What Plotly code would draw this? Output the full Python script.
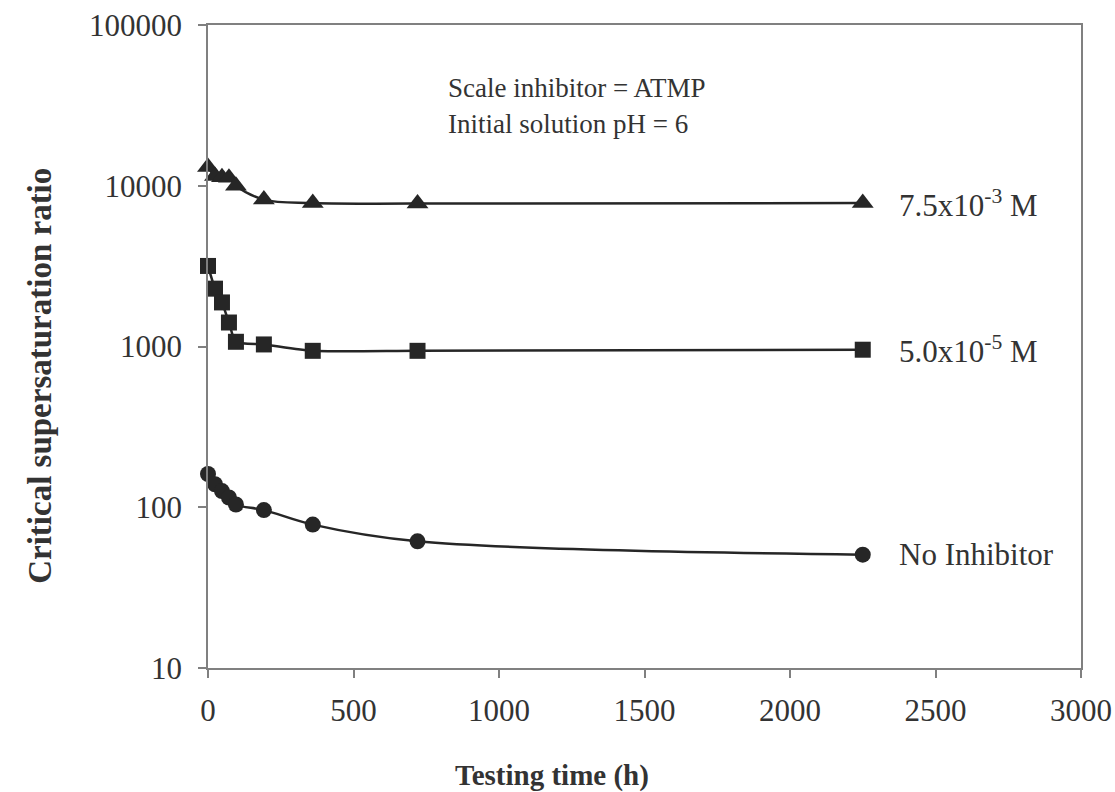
import math
import plotly.graph_objects as go

# Testing times (h) shared by all three runs
time_h = [0, 24, 48, 72, 96, 192, 360, 720, 2250]

# Critical supersaturation ratio for each inhibitor dose
atmp_75e3 = [13100, 11500, 11300, 11200, 10000, 8200, 7800, 7750, 7800]
atmp_50e5 = [3170, 2290, 1880, 1410, 1070, 1030, 940, 940, 955]
no_inhib = [161, 139, 126, 115, 104, 96, 78, 61.4, 50.7]

series_labels = ["7.5x10<sup>-3</sup> M", "5.0x10<sup>-5</sup> M", "No Inhibitor"]

x_ticks = [0, 500, 1000, 1500, 2000, 2500, 3000]
y_ticks = [10, 100, 1000, 10000, 100000]
y_ticktext = ["10", "100", "1000", "10000", "100000"]

serif = "Liberation Serif, Times New Roman, serif"
ink = "#262626"
text_col = "#333333"
axis_grey = "#808080"

fig = go.Figure()

fig.add_trace(go.Scatter(
    x=time_h, y=atmp_75e3, mode="lines+markers",
    line=dict(color=ink, width=2.5, shape="spline", smoothing=1.0),
    marker=dict(symbol="triangle-up", size=19, color=ink),
    showlegend=False, cliponaxis=False,
))
fig.add_trace(go.Scatter(
    x=time_h, y=atmp_50e5, mode="lines+markers",
    line=dict(color=ink, width=2.5, shape="spline", smoothing=0.6),
    marker=dict(symbol="square", size=16, color=ink),
    showlegend=False, cliponaxis=False,
))
fig.add_trace(go.Scatter(
    x=time_h, y=no_inhib, mode="lines+markers",
    line=dict(color=ink, width=2.5, shape="spline", smoothing=1.0),
    marker=dict(symbol="circle", size=16, color=ink),
    showlegend=False, cliponaxis=False,
))

# Series labels to the right of the last point (log axis: y given as log10)
for label, values in zip(series_labels, [atmp_75e3, atmp_50e5, no_inhib]):
    fig.add_annotation(
        x=2368, y=math.log10(values[-1]), xref="x", yref="y",
        text=label, showarrow=False, xanchor="left", yanchor="middle",
        font=dict(family=serif, size=31, color=text_col),
    )

# Test conditions note
fig.add_annotation(
    x=0.273, y=0.902, xref="paper", yref="paper",
    text="Scale inhibitor = ATMP", showarrow=False,
    xanchor="left", yanchor="middle",
    font=dict(family=serif, size=27, color=text_col),
)
fig.add_annotation(
    x=0.273, y=0.846, xref="paper", yref="paper",
    text="Initial solution pH = 6", showarrow=False,
    xanchor="left", yanchor="middle",
    font=dict(family=serif, size=27, color=text_col),
)

# Axis titles
fig.add_annotation(
    x=-0.192, y=0.455, xref="paper", yref="paper",
    text="<b>Critical supersaturation ratio</b>", textangle=-90,
    showarrow=False, xanchor="center", yanchor="middle",
    font=dict(family=serif, size=33, color=text_col),
)
fig.add_annotation(
    x=0.394, y=-0.167, xref="paper", yref="paper",
    text="<b>Testing time (h)</b>", showarrow=False,
    xanchor="center", yanchor="middle",
    font=dict(family=serif, size=29, color=text_col),
)

fig.update_layout(
    width=1115, height=792,
    margin=dict(l=208, r=34, t=25, b=124, autoexpand=False),
    paper_bgcolor="white", plot_bgcolor="white",
    font=dict(family=serif, color=text_col),
)

fig.update_xaxes(
    range=[0, 3000], tickvals=x_ticks, ticktext=[str(v) for v in x_ticks],
    showgrid=False, zeroline=False, showline=True, mirror=True,
    linecolor=axis_grey, linewidth=1.5, automargin=False,
    ticks="outside", ticklen=8, tickcolor=axis_grey, tickwidth=1.5,
    ticklabelstandoff=6,
    tickfont=dict(family=serif, size=31, color=text_col),
)
fig.update_yaxes(
    type="log", range=[1, 5], tickvals=y_ticks, ticktext=y_ticktext,
    showgrid=False, zeroline=False, showline=True, mirror=True,
    linecolor=axis_grey, linewidth=1.5, automargin=False,
    ticks="outside", ticklen=8, tickcolor=axis_grey, tickwidth=1.5,
    ticklabelstandoff=10,
    tickfont=dict(family=serif, size=31, color=text_col),
)

fig.write_html("out.html")
